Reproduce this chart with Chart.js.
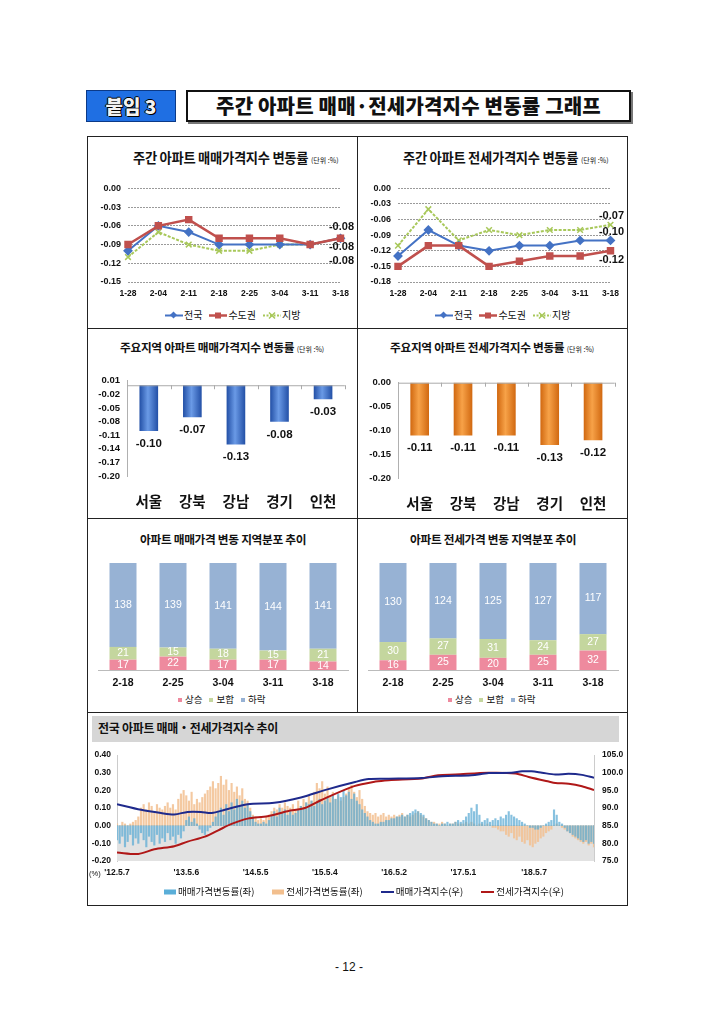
<!DOCTYPE html>
<html>
<head>
<meta charset="utf-8">
<script src="https://cdn.jsdelivr.net/npm/chart.js@4/dist/chart.umd.min.js"></script>
<style>
  body { margin: 0; width: 720px; height: 1018px; position: relative; background: #fff; overflow: hidden;
         font-family: "Noto Sans CJK KR", sans-serif; color: #111; }
  .abs { position: absolute; white-space: nowrap; }
  canvas { position: absolute; }
  .line { position: absolute; background: #222; }
  .ttl { position: absolute; white-space: nowrap; font-weight: 700; letter-spacing: -0.3px; line-height: 1; }
  .ttl small { font-size: 7px; font-weight: 400; letter-spacing: 0; }
  .lg { position: absolute; display: flex; align-items: center; font-size: 10px; white-space: nowrap; line-height: 1; }
  .lg svg { margin-right: 1px; }
  .lg span { margin-right: 7px; }
</style>
</head>
<body>

<!-- header -->
<div class="abs" style="left:86px;top:90px;width:90px;height:32px;background:#1f6fe3;border:1px solid #0b3a88;box-sizing:border-box;
  color:#f2f2f2;font-weight:900;font-size:19px;text-align:center;line-height:30px;
  text-shadow:1px 1px 0 #000,-1px 0 0 #000,0 -1px 0 #000,1px 0 0 #000;">붙임 3</div>
<div class="abs" style="left:186px;top:90px;width:445px;height:32px;border:2px solid #111;box-sizing:border-box;box-shadow:2px 2px 0 #777;
  font-weight:900;font-size:20px;text-align:center;line-height:28px;letter-spacing:0.2px;">주간 아파트 매매·전세가격지수 변동률 그래프</div>

<!-- frame -->
<div class="line" style="left:87px;top:136px;width:541px;height:1px"></div>
<div class="line" style="left:87px;top:328px;width:541px;height:1px"></div>
<div class="line" style="left:87px;top:518px;width:541px;height:1px"></div>
<div class="line" style="left:87px;top:712px;width:541px;height:1px"></div>
<div class="line" style="left:87px;top:905px;width:541px;height:1px"></div>
<div class="line" style="left:87px;top:136px;width:1px;height:770px"></div>
<div class="line" style="left:627px;top:136px;width:1px;height:770px"></div>
<div class="line" style="left:357px;top:136px;width:1px;height:576px"></div>

<!-- titles -->
<div class="ttl" style="left:133px;top:151px;font-size:13.3px">주간 아파트 매매가격지수 변동률 <small>(단위 :%)</small></div>
<div class="ttl" style="left:403px;top:151px;font-size:13.3px">주간 아파트 전세가격지수 변동률 <small>(단위 :%)</small></div>
<div class="ttl" style="left:120px;top:341px;font-size:11.7px">주요지역 아파트 매매가격지수 변동률 <small>(단위 :%)</small></div>
<div class="ttl" style="left:390px;top:341px;font-size:11.7px">주요지역 아파트 전세가격지수 변동률 <small>(단위 :%)</small></div>
<div class="ttl" style="left:140px;top:533px;font-size:11.7px">아파트 매매가격 변동 지역분포 추이</div>
<div class="ttl" style="left:410px;top:533px;font-size:11.7px">아파트 전세가격 변동 지역분포 추이</div>
<div class="abs" style="left:92px;top:716px;width:527px;height:26px;background:#d6d6d6"></div>
<div class="ttl" style="left:98px;top:722px;font-size:12px">전국 아파트 매매・전세가격지수 추이</div>

<!-- canvases -->
<canvas id="c1" width="264" height="126" style="left:92px;top:176px"></canvas>
<canvas id="c2" width="264" height="126" style="left:362px;top:176px"></canvas>
<canvas id="c3" width="262" height="145" style="left:92px;top:368px"></canvas>
<canvas id="c4" width="262" height="145" style="left:362px;top:370px"></canvas>
<canvas id="c5" width="262" height="135" style="left:92px;top:555px"></canvas>
<canvas id="c6" width="262" height="135" style="left:362px;top:555px"></canvas>
<canvas id="c7" width="536" height="138" style="left:88px;top:742px"></canvas>

<!-- legends -->
<div class="lg" style="left:165px;top:310px">
  <svg width="18" height="9"><line x1="0" y1="4.5" x2="18" y2="4.5" stroke="#4472c4" stroke-width="2"/><rect x="6" y="1.5" width="5" height="5" fill="#4472c4" transform="rotate(45 8.5 4)"/></svg><span>전국</span>
  <svg width="18" height="9"><line x1="0" y1="4.5" x2="18" y2="4.5" stroke="#c0504d" stroke-width="2.5"/><rect x="6" y="1.5" width="6" height="6" fill="#c0504d"/></svg><span>수도권</span>
  <svg width="18" height="9"><line x1="0" y1="4.5" x2="18" y2="4.5" stroke="#a8c85a" stroke-width="2" stroke-dasharray="2 1.5"/><path d="M6 1.5 L12 7.5 M12 1.5 L6 7.5" stroke="#a8c85a" stroke-width="1.5"/></svg><span>지방</span>
</div>
<div class="lg" style="left:435px;top:310px">
  <svg width="18" height="9"><line x1="0" y1="4.5" x2="18" y2="4.5" stroke="#4472c4" stroke-width="2"/><rect x="6" y="1.5" width="5" height="5" fill="#4472c4" transform="rotate(45 8.5 4)"/></svg><span>전국</span>
  <svg width="18" height="9"><line x1="0" y1="4.5" x2="18" y2="4.5" stroke="#c0504d" stroke-width="2.5"/><rect x="6" y="1.5" width="6" height="6" fill="#c0504d"/></svg><span>수도권</span>
  <svg width="18" height="9"><line x1="0" y1="4.5" x2="18" y2="4.5" stroke="#a8c85a" stroke-width="2" stroke-dasharray="2 1.5"/><path d="M6 1.5 L12 7.5 M12 1.5 L6 7.5" stroke="#a8c85a" stroke-width="1.5"/></svg><span>지방</span>
</div>
<div class="lg" style="left:178px;top:695px;font-size:9.5px">
  <svg width="6" height="6"><rect width="4" height="4" y="1" fill="#ee8a9e"/></svg><span>상승</span>
  <svg width="6" height="6"><rect width="4" height="4" y="1" fill="#c4d69e"/></svg><span>보합</span>
  <svg width="6" height="6"><rect width="4" height="4" y="1" fill="#97b2d4"/></svg><span>하락</span>
</div>
<div class="lg" style="left:448px;top:695px;font-size:9.5px">
  <svg width="6" height="6"><rect width="4" height="4" y="1" fill="#ee8a9e"/></svg><span>상승</span>
  <svg width="6" height="6"><rect width="4" height="4" y="1" fill="#c4d69e"/></svg><span>보합</span>
  <svg width="6" height="6"><rect width="4" height="4" y="1" fill="#97b2d4"/></svg><span>하락</span>
</div>
<div class="abs" style="left:89px;top:869px;font-size:7.5px;font-family:'Liberation Sans',sans-serif">(%)</div>
<div class="lg" style="left:164px;top:887px;font-size:9.5px">
  <svg width="13" height="6"><rect width="12" height="5" y="0.5" fill="#5aaed8"/></svg><span style="margin-right:18px">매매가격변동률(좌)</span>
  <svg width="13" height="6"><rect width="12" height="5" y="0.5" fill="#f2bf8e"/></svg><span style="margin-right:18px">전세가격변동률(좌)</span>
  <svg width="14" height="6"><line x1="0" y1="3" x2="13" y2="3" stroke="#1f2a8c" stroke-width="2"/></svg><span style="margin-right:18px">매매가격지수(우)</span>
  <svg width="14" height="6"><line x1="0" y1="3" x2="13" y2="3" stroke="#b01818" stroke-width="2"/></svg><span>전세가격지수(우)</span>
</div>

<div class="abs" style="left:335px;top:960px;font-size:12px;font-family:'Liberation Sans',sans-serif">- 12 -</div>

<script>
// weekly change rate, lines (top row)
const weekLabels = ["1-28", "2-04", "2-11", "2-18", "2-25", "3-04", "3-11", "3-18"];
const saleAll = [-0.10, -0.06, -0.07, -0.09, -0.09, -0.09, -0.09, -0.08];
const saleCapital = [-0.09, -0.06, -0.05, -0.08, -0.08, -0.08, -0.09, -0.08];
const saleLocal = [-0.11, -0.07, -0.09, -0.10, -0.10, -0.09, -0.09, -0.08];
const saleTicks = [0, -0.03, -0.06, -0.09, -0.12, -0.15];

const rentAll = [-0.13, -0.08, -0.11, -0.12, -0.11, -0.11, -0.10, -0.10];
const rentCapital = [-0.15, -0.11, -0.11, -0.15, -0.14, -0.13, -0.13, -0.12];
const rentLocal = [-0.11, -0.04, -0.10, -0.08, -0.09, -0.08, -0.08, -0.07];
const rentTicks = [0, -0.03, -0.06, -0.09, -0.12, -0.15, -0.18];

// main regions (second row)
const regions = ["서울", "강북", "강남", "경기", "인천"];
const regionSale = [-0.10, -0.07, -0.13, -0.08, -0.03];
const regionSaleTicks = [0.01, -0.02, -0.05, -0.08, -0.11, -0.14, -0.17, -0.20];
const regionRent = [-0.11, -0.11, -0.11, -0.13, -0.12];
const regionRentTicks = [0, -0.05, -0.10, -0.15, -0.20];

// number of regions up / flat / down (third row)
const distWeeks = ["2-18", "2-25", "3-04", "3-11", "3-18"];
const saleUp = [17, 22, 17, 17, 14];
const saleFlat = [21, 15, 18, 15, 21];
const saleDown = [138, 139, 141, 144, 141];
const rentUp = [16, 25, 20, 25, 32];
const rentFlat = [30, 27, 31, 24, 27];
const rentDown = [130, 124, 125, 127, 117];

// long run trend, one value per 2 weeks from 12.5.7 (left axis, %)
const trendSaleChg = [
  -0.08, -0.10, -0.06, -0.12, -0.09, -0.05, -0.11, -0.07, -0.10, -0.04, -0.08, -0.12, -0.06,
  -0.09, -0.11, -0.05, -0.10, -0.07, -0.09, -0.04, -0.08, -0.06, -0.10, -0.05, -0.07, -0.03,
  0.03, 0.05, 0.02, 0.04, 0.01, -0.02, -0.04, -0.05, -0.03, -0.01, 0.02, 0.05, 0.08,
  0.10, 0.06, 0.12, 0.08, 0.13, 0.09, 0.15, 0.11, 0.14, 0.10, 0.12, 0.08, 0.05,
  0.02, 0.01, 0.01, 0.02, 0.01, 0.03, 0.06, 0.08, 0.05, 0.10, 0.07, 0.09, 0.06,
  0.08, 0.06, 0.07, 0.09, 0.11, 0.10, 0.13, 0.12, 0.14, 0.11, 0.13, 0.15, 0.12,
  0.14, 0.16, 0.13, 0.17, 0.15, 0.18, 0.16, 0.20, 0.17, 0.19, 0.15, 0.18, 0.14,
  0.12, 0.09, 0.07, 0.05, 0.03, 0.02, 0.01, 0.01, 0.02, 0.02, 0.03, 0.03, 0.04,
  0.04, 0.05, 0.05, 0.06, 0.05, 0.06, 0.07, 0.08, 0.09, 0.08, 0.07, 0.06, 0.04,
  0.03, 0.02, 0.01, 0.01, 0.00, 0.01, 0.01, 0.02, 0.01, 0.01, 0.02, 0.03, 0.02,
  0.03, 0.05, 0.07, 0.10, 0.08, 0.12, 0.06, 0.02, 0.03, 0.04, 0.02, 0.03, 0.04,
  0.03, 0.05, 0.04, 0.06, 0.08, 0.06, 0.05, 0.04, 0.03, 0.02, 0.01, 0.00, -0.01,
  -0.01, -0.02, -0.02, -0.01, 0.00, 0.01, 0.02, 0.03, 0.09, 0.06, 0.02, 0.01, -0.01,
  -0.03, -0.04, -0.05, -0.06, -0.07, -0.08, -0.09, -0.08, -0.10, -0.09, -0.10
];
const trendRentChg = [
  0.01, 0.00, 0.02, 0.01, 0.00, 0.01, 0.02, 0.03, 0.05, 0.10, 0.12, 0.09, 0.13,
  0.11, 0.08, 0.12, 0.10, 0.09, 0.11, 0.13, 0.10, 0.12, 0.09, 0.15, 0.18, 0.20,
  0.17, 0.14, 0.19, 0.12, 0.15, 0.13, 0.16, 0.18, 0.20, 0.22, 0.25, 0.21, 0.24,
  0.28, 0.23, 0.26, 0.20, 0.24, 0.19, 0.22, 0.17, 0.21, 0.15, 0.14, 0.10, 0.06,
  0.05, 0.03, 0.04, 0.03, 0.05, 0.06, 0.08, 0.10, 0.09, 0.12, 0.10, 0.13, 0.11,
  0.10, 0.12, 0.09, 0.14, 0.11, 0.15, 0.13, 0.17, 0.14, 0.19, 0.24, 0.21, 0.25,
  0.18, 0.22, 0.16, 0.19, 0.15, 0.17, 0.14, 0.16, 0.18, 0.21, 0.23, 0.19, 0.16,
  0.20, 0.15, 0.11, 0.08, 0.07, 0.06, 0.07, 0.05, 0.06, 0.07, 0.05, 0.06, 0.05,
  0.06, 0.05, 0.06, 0.07, 0.05, 0.06, 0.05, 0.06, 0.07, 0.08, 0.06, 0.05, 0.04,
  0.03, 0.02, 0.02, 0.01, 0.01, 0.02, 0.01, 0.00, 0.01, 0.01, 0.02, 0.01, 0.01,
  0.01, 0.02, 0.01, 0.02, 0.01, 0.00, 0.01, 0.01, 0.00, 0.01, 0.00, -0.01, -0.01,
  -0.02, -0.03, -0.03, -0.05, -0.06, -0.04, -0.07, -0.08, -0.06, -0.09, -0.10, -0.08, -0.11,
  -0.12, -0.10, -0.09, -0.07, -0.06, -0.04, -0.03, -0.02, 0.00, 0.01, 0.00, -0.01, -0.02,
  -0.03, -0.04, -0.06, -0.07, -0.08, -0.09, -0.10, -0.09, -0.11, -0.10, -0.12
];
// index (right axis), read at these week numbers
const saleIdxWeek = [0, 18, 33, 43, 53, 63, 71, 81, 98, 118, 138, 158, 178, 189, 204, 229, 244, 266, 279, 296, 304, 311, 319, 329, 339, 349, 358];
const saleIdx = [91.1, 89.5, 88.6, 88.2, 88.9, 88.9, 88.6, 89.5, 91.1, 91.5, 93.0, 95.3, 97.3, 98.2, 98.3, 98.5, 99.0, 99.3, 99.9, 100.0, 100.4, 100.4, 100.0, 99.5, 99.7, 99.4, 98.6];
const rentIdxWeek = [0, 16, 28, 43, 53, 66, 76, 86, 98, 113, 128, 141, 153, 178, 194, 204, 229, 241, 254, 279, 299, 309, 324, 329, 339, 349, 358];
const rentIdx = [77.4, 77.0, 78.3, 79.2, 80.5, 81.9, 83.7, 85.5, 87.0, 87.7, 89.1, 90.0, 92.2, 96.2, 97.5, 97.9, 98.4, 99.3, 99.5, 100.0, 99.8, 98.8, 97.5, 97.1, 96.9, 96.2, 95.1];
const trendTickWeeks = [0, 52, 104, 156, 208, 260, 313];
const trendTickLabels = ["'12.5.7", "'13.5.6", "'14.5.5", "'15.5.4", "'16.5.2", "'17.5.1", "'18.5.7"];
const leftTicks = [0.4, 0.3, 0.2, 0.1, 0, -0.1, -0.2];
const rightTicks = [105, 100, 95, 90, 85, 80, 75];

Chart.defaults.font.family = "'Liberation Sans', Arial, 'Noto Sans CJK KR', sans-serif";
Chart.defaults.color = "#111";
Chart.defaults.animation = false;
Chart.defaults.events = [];
Chart.defaults.plugins.legend.display = false;
Chart.defaults.plugins.tooltip.enabled = false;

function fixedTicks(list) {
  return function (axis) {
    axis.ticks = list.map(function (v) { return { value: v }; });
  };
}
function setWidth(w) { return function (axis) { axis.width = w; }; }
function setHeight(h) { return function (axis) { axis.height = h; }; }

// text next to the last point of each line
const endLabels = {
  id: "endLabels",
  afterDatasetsDraw(chart, args, opts) {
    const ctx = chart.ctx;
    ctx.save();
    ctx.font = "bold 11px 'Liberation Sans', Arial";
    ctx.fillStyle = "#111";
    ctx.textAlign = "center";
    ctx.textBaseline = "middle";
    chart.data.datasets.forEach(function (ds, i) {
      const pts = chart.getDatasetMeta(i).data;
      const p = pts[pts.length - 1];
      ctx.fillText(ds.data[ds.data.length - 1].toFixed(2), p.x + 1, p.y + opts.dy[i]);
    });
    ctx.restore();
  }
};

function weeklyChart(id, all, capital, local, ticks, dy) {
  new Chart(document.getElementById(id), {
    type: "line",
    data: {
      labels: weekLabels,
      datasets: [
        { data: capital, borderColor: "#c0504d", backgroundColor: "#c0504d", borderWidth: 2.5,
          pointStyle: "rect", pointRadius: 3.5 },
        { data: all, borderColor: "#4472c4", backgroundColor: "#4472c4", borderWidth: 2,
          pointStyle: "rectRot", pointRadius: 3.5 },
        { data: local, borderColor: "#a8c85a", backgroundColor: "#a8c85a", borderWidth: 2,
          borderDash: [3, 1.5], pointStyle: "crossRot", pointRadius: 4, pointBorderWidth: 1.5 },
      ],
    },
    options: {
      responsive: false,
      layout: { padding: { top: 7, right: 13, left: 0, bottom: 0 } },
      scales: {
        x: {
          grid: { display: false, drawTicks: false },
          border: { display: false },
          ticks: { font: { size: 8.5, weight: "bold" }, padding: 7, maxRotation: 0, autoSkip: false },
          afterFit: setHeight(20),
        },
        y: {
          min: ticks[ticks.length - 1], max: 0,
          afterBuildTicks: fixedTicks(ticks),
          afterFit: setWidth(36),
          grid: { color: "#9a9a9a", drawTicks: false },
          border: { display: false, dash: [2, 1] },
          ticks: { font: { size: 9, weight: "bold" }, padding: 7, autoSkip: false,
                   callback: function (v) { return v.toFixed(2); } },
        },
      },
      plugins: { endLabels: { dy: dy } },
    },
    plugins: [endLabels],
  });
}
weeklyChart("c1", saleAll, saleCapital, saleLocal, saleTicks, [-11, 9, 23]);
weeklyChart("c2", rentAll, rentCapital, rentLocal, rentTicks, [9, -8, -9]);

// region bar charts
const BAR_W = 18;
function barFill(edge, mid) {
  return function (c) {
    const chart = c.chart;
    const x = chart.scales.x.getPixelForValue(c.dataIndex);
    if (!isFinite(x)) return edge;
    const g = chart.ctx.createLinearGradient(x - BAR_W / 2, 0, x + BAR_W / 2, 0);
    g.addColorStop(0, edge);
    g.addColorStop(0.45, mid);
    g.addColorStop(1, edge);
    return g;
  };
}
const barValueLabels = {
  id: "barValueLabels",
  afterDatasetsDraw(chart) {
    const ctx = chart.ctx;
    const ds = chart.data.datasets[0];
    ctx.save();
    ctx.font = "bold 11.5px 'Liberation Sans', Arial";
    ctx.fillStyle = "#111";
    ctx.textAlign = "center";
    ctx.textBaseline = "middle";
    chart.getDatasetMeta(0).data.forEach(function (bar, i) {
      ctx.fillText(ds.data[i].toFixed(2), bar.x, bar.y + 13);
    });
    // zero line with small category ticks
    const a = chart.chartArea;
    const y0 = chart.scales.y.getPixelForValue(0);
    ctx.strokeStyle = "#aaa";
    ctx.lineWidth = 1;
    ctx.beginPath();
    ctx.moveTo(a.left, y0 + 0.5);
    ctx.lineTo(a.right, y0 + 0.5);
    const step = (a.right - a.left) / ds.data.length;
    for (let i = 1; i <= ds.data.length; i++) {
      const xx = Math.round(a.left + step * i) + 0.5;
      ctx.moveTo(xx, y0);
      ctx.lineTo(xx, y0 + 4);
    }
    ctx.stroke();
    ctx.restore();
  }
};
function regionChart(id, values, ticks, edge, mid, yWidth) {
  new Chart(document.getElementById(id), {
    type: "bar",
    data: {
      labels: regions,
      datasets: [{ data: values, barThickness: BAR_W, backgroundColor: barFill(edge, mid),
                   borderColor: edge, borderWidth: 0 }],
    },
    options: {
      responsive: false,
      layout: { padding: { top: 7, right: 6, left: 0, bottom: 0 } },
      scales: {
        x: {
          grid: { display: false, drawTicks: false },
          border: { display: false },
          ticks: { font: { size: 14.5, weight: "bold", family: "'Noto Sans CJK KR', sans-serif" }, padding: 17 },
          afterFit: setHeight(37),
        },
        y: {
          min: ticks[ticks.length - 1], max: ticks[0],
          afterBuildTicks: fixedTicks(ticks),
          afterFit: setWidth(yWidth),
          grid: { display: false, drawTicks: false },
          border: { display: true, color: "#b0b0b0" },
          ticks: { font: { size: 9.5, weight: "bold" }, padding: 7, autoSkip: false,
                   callback: function (v) { return v.toFixed(2); } },
        },
      },
    },
    plugins: [barValueLabels],
  });
}
regionChart("c3", regionSale, regionSaleTicks, "#2552a8", "#6a9ae6", 35);
regionChart("c4", regionRent, regionRentTicks, "#d26a12", "#f7a248", 36);

// stacked distribution charts
const stackLabels = {
  id: "stackLabels",
  afterDatasetsDraw(chart) {
    const ctx = chart.ctx;
    ctx.save();
    ctx.font = "10.5px 'Liberation Sans', Arial";
    ctx.fillStyle = "#fff";
    ctx.textAlign = "center";
    ctx.textBaseline = "middle";
    chart.data.datasets.forEach(function (ds, di) {
      chart.getDatasetMeta(di).data.forEach(function (bar, i) {
        ctx.fillText(String(ds.data[i]), bar.x, (bar.y + bar.base) / 2);
      });
    });
    ctx.restore();
  }
};
function distChart(id, up, flat, down) {
  new Chart(document.getElementById(id), {
    type: "bar",
    data: {
      labels: distWeeks,
      datasets: [
        { label: "상승", data: up, backgroundColor: "#ee8a9e" },
        { label: "보합", data: flat, backgroundColor: "#c4d69e" },
        { label: "하락", data: down, backgroundColor: "#97b2d4" },
      ],
    },
    options: {
      responsive: false,
      layout: { padding: { top: 8, right: 6, left: 6, bottom: 0 } },
      datasets: { bar: { barPercentage: 0.54, categoryPercentage: 1 } },
      scales: {
        x: {
          stacked: true,
          grid: { display: false, drawTicks: false },
          border: { display: true, color: "#bbb", dash: [2, 2] },
          ticks: { font: { size: 10.5, weight: "bold" }, padding: 7 },
          afterFit: setHeight(20),
        },
        y: { stacked: true, display: false, min: 0, max: 176 },
      },
    },
    plugins: [stackLabels],
  });
}
distChart("c5", saleUp, saleFlat, saleDown);
distChart("c6", rentUp, rentFlat, rentDown);

// long run chart
const belowZero = {
  id: "belowZero",
  beforeDatasetsDraw(chart) {
    const a = chart.chartArea;
    const y0 = chart.scales.y.getPixelForValue(0);
    const ctx = chart.ctx;
    ctx.save();
    ctx.fillStyle = "#e2e2e2";
    ctx.fillRect(a.left, y0, a.right - a.left, a.bottom - y0);
    ctx.restore();
  }
};
function toPoints(values, step) {
  return values.map(function (v, i) { return { x: i * step, y: v }; });
}
function pairPoints(weeks, values) {
  return weeks.map(function (w, i) { return { x: w, y: values[i] }; });
}
new Chart(document.getElementById("c7"), {
  type: "bar",
  data: {
    datasets: [
      { type: "line", data: pairPoints(saleIdxWeek, saleIdx), yAxisID: "y2", borderColor: "#1f2a8c",
        borderWidth: 2, pointRadius: 0, tension: 0.3, order: 0 },
      { type: "line", data: pairPoints(rentIdxWeek, rentIdx), yAxisID: "y2", borderColor: "#b01818",
        borderWidth: 2, pointRadius: 0, tension: 0.3, order: 1 },
      { data: toPoints(trendSaleChg, 2), yAxisID: "y", backgroundColor: "rgba(95,172,212,0.75)",
        barThickness: 1.5, grouped: false, order: 2 },
      { data: toPoints(trendRentChg, 2), yAxisID: "y", backgroundColor: "rgba(242,192,145,0.85)",
        barThickness: 1.5, grouped: false, order: 3 },
    ],
  },
  options: {
    responsive: false,
    layout: { padding: { top: 7, right: 0, left: 0, bottom: 0 } },
    scales: {
      x: {
        type: "linear", min: 0, max: 358, offset: false,
        afterBuildTicks: fixedTicks(trendTickWeeks),
        afterFit: setHeight(19),
        grid: { display: false, drawTicks: false },
        border: { display: false },
        ticks: { font: { size: 8.5, weight: "bold" }, padding: 7, maxRotation: 0, autoSkip: false,
                 callback: function (v, i) { return trendTickLabels[i]; } },
      },
      y: {
        position: "left", min: -0.2, max: 0.4,
        afterBuildTicks: fixedTicks(leftTicks),
        afterFit: setWidth(29),
        grid: { display: false, drawTicks: false },
        border: { display: true, color: "#ccc" },
        ticks: { font: { size: 8.5, weight: "bold" }, padding: 6, autoSkip: false,
                 callback: function (v) { return v.toFixed(2); } },
      },
      y2: {
        position: "right", min: 75, max: 105,
        afterBuildTicks: fixedTicks(rightTicks),
        afterFit: setWidth(30),
        grid: { display: false, drawTicks: false },
        border: { display: true, color: "#ccc" },
        ticks: { font: { size: 8.5, weight: "bold" }, padding: 8, autoSkip: false,
                 callback: function (v) { return v.toFixed(1); } },
      },
    },
  },
  plugins: [belowZero],
});
</script>
</body>
</html>
